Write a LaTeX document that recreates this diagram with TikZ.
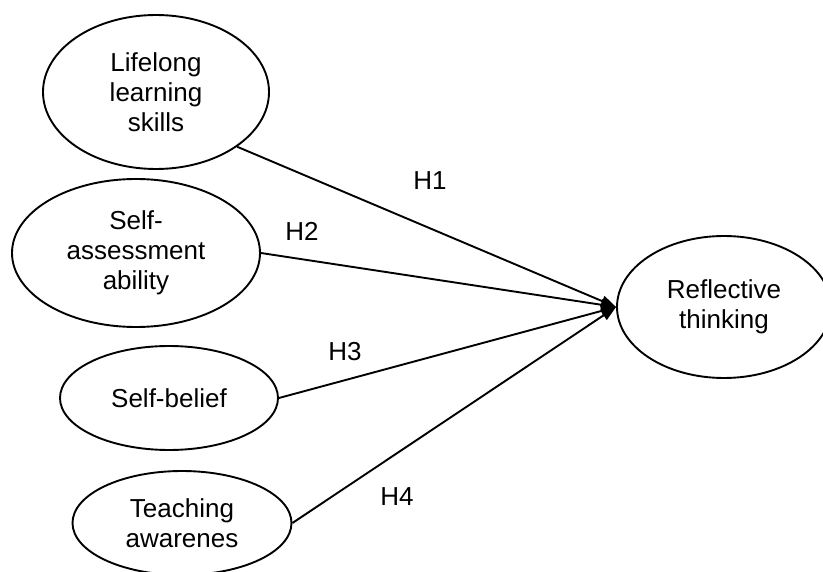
\documentclass[tikz,border=0pt]{standalone}
\usepackage{fontspec}
\setmainfont{Liberation Sans}
\usepackage{tikz}
\usetikzlibrary{arrows.meta,shapes.geometric}
\tikzset{%
	construct/.style = {draw, ellipse, line width=1.9pt, inner sep=0pt, align=center, font=\fontsize{26}{30}\selectfont},
	hyp/.style       = {font=\fontsize{26}{30}\selectfont},
	arrow/.style     = {line width=1.9pt, -{Triangle[length=15pt,width=11pt]}},
}
\begin{document}
\begin{tikzpicture}[x=1pt,y=-1pt]
	\useasboundingbox (0,0) rectangle (823,572);  % page frame
	% constructs
	\node[construct, minimum width=226pt, minimum height=154pt] (lls) at (156,92) {Lifelong\\learning\\skills};
	\node[construct, minimum width=248pt, minimum height=148pt] (saa) at (136,253) {Self-\\assessment\\ability};
	\node[construct, minimum width=218pt, minimum height=104pt] (sb) at (169,398) {Self-belief};
	\node[construct, minimum width=219pt, minimum height=104pt] (ta) at (182,523) {Teaching\\awarenes};
	\node[construct, minimum width=214pt, minimum height=142pt] (rt) at (724,307) {Reflective\\thinking};
	% hypotheses
	\draw[arrow] (lls.-34) -- (rt.west);
	\draw[arrow] (saa.east) -- (rt.west);
	\draw[arrow] (sb.east) -- (rt.west);
	\draw[arrow] (ta.east) -- (rt.west);
	\node[hyp] (h1) at (430,181) {H1};
	\node[hyp] (h2) at (302,231) {H2};
	\node[hyp] (h3) at (345,352) {H3};
	\node[hyp] (h4) at (397,497) {H4};
\end{tikzpicture}
\end{document}
